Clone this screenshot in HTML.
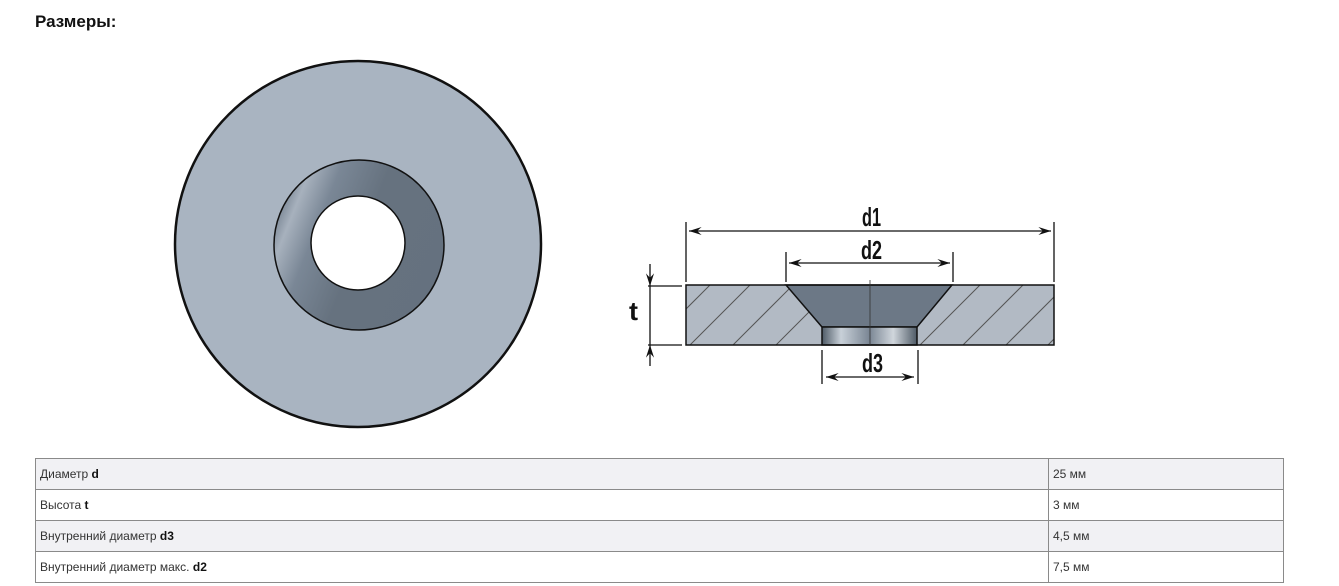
<!DOCTYPE html>
<html><head><meta charset="utf-8"><style>
body{margin:0;background:#fff;width:1339px;height:586px;overflow:hidden;font-family:"Liberation Sans",sans-serif;position:relative}
h1{position:absolute;left:35px;top:12px;margin:0;font-size:17px;font-weight:bold;color:#111}
svg{position:absolute;left:0;top:0}
table{position:absolute;left:35px;top:458px;width:1249px;border-collapse:collapse;font-size:12px;color:#333}
td{border:1px solid #8a8a8a;height:31px;padding:0 4px;box-sizing:border-box}
tr:nth-child(odd) td{background:#f1f1f4}
td b{color:#111}
</style></head><body>
<h1>Размеры:</h1>
<svg width="1339" height="450" viewBox="0 0 1339 450">
<defs>
<linearGradient id="ring" x1="0" y1="0.3" x2="1" y2="0.7">
<stop offset="0" stop-color="#6f7c8b"/><stop offset="0.1" stop-color="#a7b1bd"/><stop offset="0.25" stop-color="#7a8796"/><stop offset="0.5" stop-color="#66727f"/><stop offset="1" stop-color="#65717f"/>
</linearGradient>
<linearGradient id="bore" x1="0" y1="0" x2="1" y2="0">
<stop offset="0" stop-color="#4e5a66"/><stop offset="0.2" stop-color="#c8d0d8"/><stop offset="0.5" stop-color="#7a8694"/><stop offset="0.75" stop-color="#d0d6dc"/><stop offset="1" stop-color="#4e5a66"/>
</linearGradient>
<clipPath id="bodyclip"><rect x="686" y="285" width="368" height="60"/></clipPath>
<marker id="a" viewBox="0 0 14 10" refX="14" refY="5" markerWidth="14" markerHeight="9" orient="auto-start-reverse" markerUnits="userSpaceOnUse"><path d="M0,0.5 L14,5 L0,9.5 L5,5 z" fill="#111"/></marker>
</defs>
<circle cx="358" cy="244" r="183" fill="#a9b4c1" stroke="#111" stroke-width="2.5"/>
<circle cx="359" cy="245" r="85" fill="url(#ring)" stroke="#111" stroke-width="1.5"/>
<circle cx="358" cy="243" r="47" fill="#fff" stroke="#111" stroke-width="1.5"/>

<rect x="686" y="285" width="368" height="60" fill="#b2bac4"/>
<g clip-path="url(#bodyclip)" stroke="#555" stroke-width="1">
<line x1="690" y1="345" x2="750" y2="285"/><line x1="733" y1="345" x2="793" y2="285"/>
<line x1="776" y1="345" x2="836" y2="285"/><line x1="876" y1="345" x2="936" y2="285"/>
<line x1="920" y1="345" x2="980" y2="285"/><line x1="963" y1="345" x2="1023" y2="285"/>
<line x1="1006" y1="345" x2="1066" y2="285"/><line x1="1048" y1="345" x2="1108" y2="285"/>
<line x1="660" y1="335" x2="710" y2="285"/>
</g>
<polygon points="786,285 952,285 917,327 822,327" fill="#6c7886" stroke="#111" stroke-width="1.5"/>
<rect x="822" y="327" width="95" height="18" fill="url(#bore)" stroke="#111" stroke-width="1.5"/>
<rect x="686" y="285" width="368" height="60" fill="none" stroke="#111" stroke-width="1.5"/>
<line x1="870" y1="280" x2="870" y2="345" stroke="#333" stroke-width="0.8"/>

<g stroke="#111" stroke-width="1.3" fill="none">
<line x1="686" y1="222" x2="686" y2="282"/><line x1="1054" y1="222" x2="1054" y2="282"/>
<line x1="689" y1="231" x2="1051" y2="231" marker-start="url(#a)" marker-end="url(#a)"/>
<line x1="786" y1="252" x2="786" y2="282"/><line x1="953" y1="252" x2="953" y2="282"/>
<line x1="789" y1="263" x2="950" y2="263" marker-start="url(#a)" marker-end="url(#a)"/>
<line x1="822" y1="350" x2="822" y2="384"/><line x1="918" y1="350" x2="918" y2="384"/>
<line x1="826" y1="377" x2="914" y2="377" marker-start="url(#a)" marker-end="url(#a)"/>
<line x1="648" y1="286" x2="682" y2="286"/><line x1="648" y1="345" x2="682" y2="345"/>
<line x1="650" y1="264" x2="650" y2="286" marker-end="url(#a)"/>
<line x1="650" y1="366" x2="650" y2="345" marker-end="url(#a)"/>
<line x1="650" y1="286" x2="650" y2="345"/>
</g>
<g font-family="Liberation Sans, sans-serif" font-size="26" font-weight="bold" fill="#111">
<text x="862" y="226" textLength="19" lengthAdjust="spacingAndGlyphs">d1</text>
<text x="861" y="259" textLength="21" lengthAdjust="spacingAndGlyphs">d2</text>
<text x="862" y="372" textLength="21" lengthAdjust="spacingAndGlyphs">d3</text>
<text x="629" y="320" textLength="9" lengthAdjust="spacingAndGlyphs">t</text>
</g>
</svg>
<table>
<tr><td>Диаметр <b>d</b></td><td style="width:235px">25 мм</td></tr>
<tr><td>Высота <b>t</b></td><td>3 мм</td></tr>
<tr><td>Внутренний диаметр <b>d3</b></td><td>4,5 мм</td></tr>
<tr><td>Внутренний диаметр макс. <b>d2</b></td><td>7,5 мм</td></tr>
</table>
</body></html>
